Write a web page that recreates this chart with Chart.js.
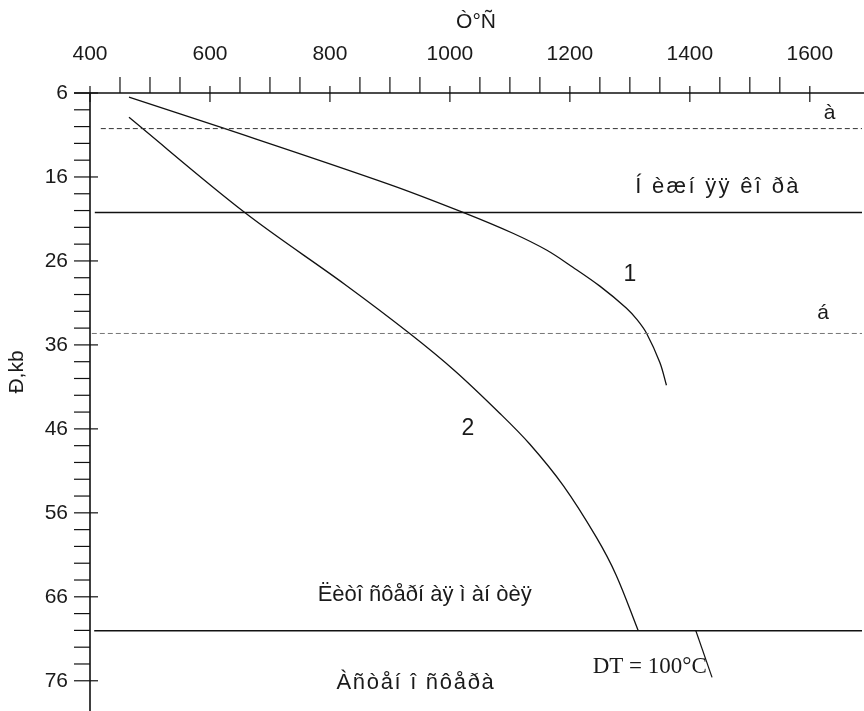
<!DOCTYPE html>
<html>
<head>
<meta charset="utf-8">
<script src="https://cdn.jsdelivr.net/npm/chart.js@4.4.1/dist/chart.umd.min.js"></script>
<style>
html,body{margin:0;padding:0;background:#fff;}
#wrap{width:864px;height:711px;}
</style>
</head>
<body>
<div id="wrap"><canvas id="c" width="864" height="711"></canvas></div>
<script>
// axes: temperature on top, pressure going down
const xMin=400, xMax=1687, xStep=50, xLabelStep=200, xLabelLast=1600;
const yMin=6, yMax=79.6, yStep=2, yLabelStep=10;

// curve 1
const curve1T=[465,625,900,1025,1105,1161,1205,1250,1294,1312,1328,1350,1361];
const curve1P=[6.5,10.24,16.9,20.3,22.7,24.7,26.75,29.0,31.6,33.0,34.64,38.1,40.8];

// curve 2
const curve2T=[465,658,825,933,1008,1083,1133,1189,1244,1277,1314];
const curve2P=[8.9,20.24,28.8,34.64,39.07,44.13,47.8,52.76,58.9,63.4,70.05];

// boundaries (a, lower crust, b, lithosphere base)
const boundaryP=[10.24,20.24,34.64,70.05];
const boundaryFromT=[418,408,403,407];

// DT = 100 segment
const dtT=[1410,1437];
const dtP=[70.05,75.6];

const pts=(xs,ys)=>xs.map((v,i)=>({x:v,y:ys[i]}));

const boundaryStyle=[
  {color:'#333',dash:[5,3],w:1},
  {color:'#111',dash:[],w:1.5},
  {color:'#777',dash:[5,3],w:1},
  {color:'#111',dash:[],w:1.5}
];

const datasets=[];
boundaryP.forEach((p,i)=>{
  datasets.push({
    data:pts([boundaryFromT[i],xMax],[p,p]),
    borderColor:boundaryStyle[i].color,
    borderDash:boundaryStyle[i].dash,
    borderWidth:boundaryStyle[i].w,
    pointRadius:0
  });
});
datasets.push({data:pts(curve1T,curve1P),borderColor:'#111',borderWidth:1.3,pointRadius:0,tension:0.35});
datasets.push({data:pts(curve2T,curve2P),borderColor:'#111',borderWidth:1.3,pointRadius:0,tension:0.35});
datasets.push({data:pts(dtT,dtP),borderColor:'#111',borderWidth:1.2,pointRadius:0});

const FONT='"Liberation Sans", Arial, sans-serif';

// text inside the plot, placed in data units (sp = extra gap between letters)
const notes=[
  {t:'à',x:1633,y:8.4,size:21,sp:0},
  {t:'Í èæí ÿÿ êî ðà',x:1445,y:17.2,size:22,sp:2.3},
  {t:'1',x:1300,y:27.6,size:23,sp:0},
  {t:'á',x:1622,y:32.2,size:21,sp:0},
  {t:'2',x:1030,y:46,size:23,sp:0},
  {t:'Ëèòî ñôåðí àÿ ì àí òèÿ',x:958,y:65.8,size:22,sp:0},
  {t:'Àñòåí î ñôåðà',x:942,y:76.3,size:22,sp:1.7}
];

function spacedText(ctx,s,cx,cy,sp){
  const chars=[...s];
  const ws=chars.map(c=>ctx.measureText(c).width);
  const total=ws.reduce((a,b)=>a+b,0)+sp*(chars.length-1);
  let px=cx-total/2;
  ctx.textAlign='left';
  chars.forEach((c,i)=>{ctx.fillText(c,px,cy);px+=ws[i]+sp;});
}

const axisMarks={
  id:'axisMarks',
  afterDraw(chart){
    const {ctx,chartArea:a,scales:{x,y}}=chart;
    ctx.save();
    ctx.strokeStyle='#111';
    ctx.lineWidth=1.6;
    ctx.beginPath();
    ctx.moveTo(a.left-16,a.top); ctx.lineTo(chart.width,a.top);
    ctx.moveTo(a.left,a.top); ctx.lineTo(a.left,a.bottom);
    ctx.stroke();

    ctx.lineWidth=1.2;
    x.ticks.forEach(t=>{
      if(t.value%xStep) return;
      const px=x.getPixelForValue(t.value);
      const major=t.value%xLabelStep===0;
      ctx.beginPath();
      ctx.moveTo(px,major?a.top-7:a.top-16);
      ctx.lineTo(px,major?a.top+9:a.top);
      ctx.stroke();
    });
    y.ticks.forEach(t=>{
      if((t.value-yMin)%yStep) return;
      const py=y.getPixelForValue(t.value);
      const major=(t.value-yMin)%yLabelStep===0;
      ctx.beginPath();
      ctx.moveTo(a.left-16,py);
      ctx.lineTo(major?a.left+8:a.left,py);
      ctx.stroke();
    });

    ctx.fillStyle='#1a1a1a';
    ctx.textBaseline='middle';
    notes.forEach(n=>{
      ctx.font=n.size+'px '+FONT;
      spacedText(ctx,n.t,x.getPixelForValue(n.x),y.getPixelForValue(n.y),n.sp);
    });

    ctx.font='23px "Liberation Serif", "Times New Roman", serif';
    ctx.textAlign='left';
    ctx.fillText('DT = 100°C',x.getPixelForValue(1238),y.getPixelForValue(74.3));

    // axis titles
    ctx.font='21px '+FONT;
    ctx.textAlign='center';
    ctx.fillText('Ò°Ñ',(a.left+a.right)/2,22);
    ctx.translate(17,372);
    ctx.rotate(-Math.PI/2);
    ctx.fillText('Ð,kb',0,0);
    ctx.restore();
  }
};

new Chart(document.getElementById('c'),{
  type:'line',
  data:{datasets},
  options:{
    responsive:false,
    animation:false,
    devicePixelRatio:1,
    layout:{padding:{left:0,right:2,top:0,bottom:0}},
    plugins:{legend:{display:false},tooltip:{enabled:false}},
    scales:{
      x:{
        type:'linear',position:'top',min:xMin,max:xMax,
        grid:{display:false,drawTicks:false},border:{display:false},
        afterFit(s){s.height=93;s.paddingLeft=0;s.paddingRight=0;},
        ticks:{
          stepSize:xStep,autoSkip:false,maxRotation:0,padding:26,
          color:'#1a1a1a',font:{family:FONT,size:21},
          callback:v=>(v%xLabelStep===0&&v<=xLabelLast)?String(v):''
        }
      },
      y:{
        type:'linear',reverse:true,min:yMin,max:yMax,
        grid:{display:false,drawTicks:false},border:{display:false},
        afterFit(s){s.width=90;s.paddingTop=0;s.paddingBottom=0;},
        ticks:{
          stepSize:yStep,autoSkip:false,padding:22,
          color:'#1a1a1a',font:{family:FONT,size:21},
          callback:v=>((v-yMin)%yLabelStep===0)?String(v):''
        }
      }
    }
  },
  plugins:[axisMarks]
});
</script>
</body>
</html>
